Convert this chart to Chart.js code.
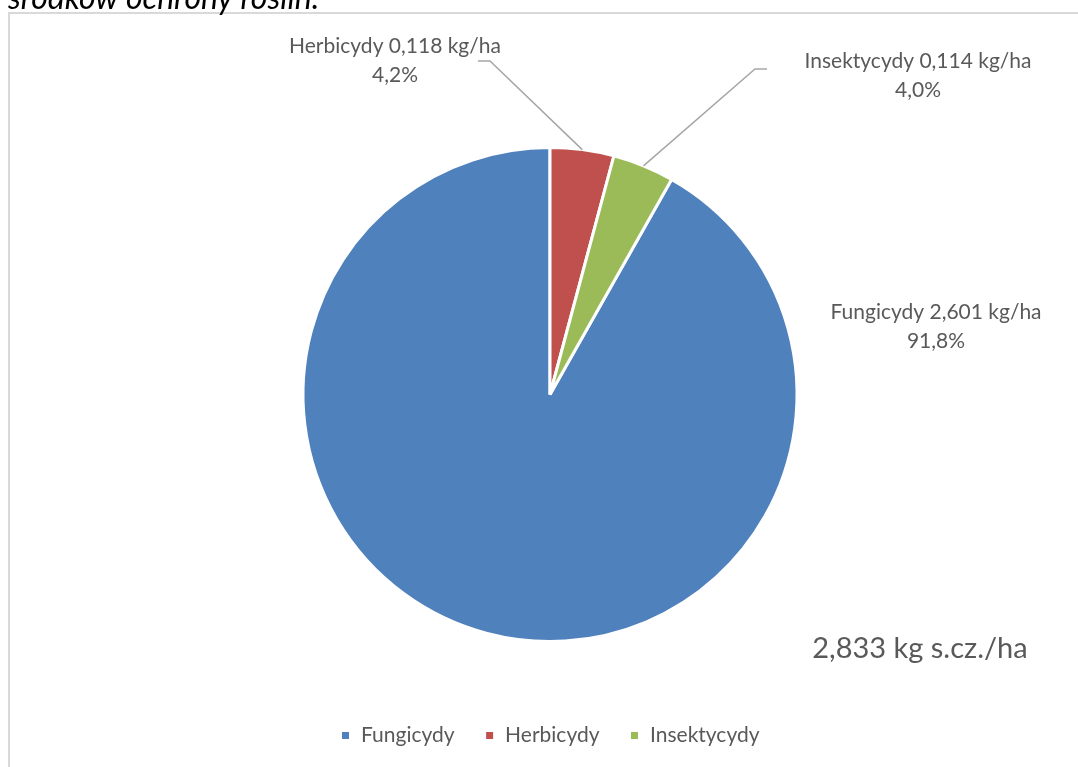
<!DOCTYPE html>
<html lang="pl">
<head>
<meta charset="utf-8">
<title>Zużycie środków ochrony roślin</title>
<script src="https://cdn.jsdelivr.net/npm/chart.js@4/dist/chart.umd.min.js"></script>
<style>
  html, body { margin: 0; padding: 0; background: #fff; overflow: hidden; }
  #frame {
    position: absolute; left: 8px; top: 12px;
    width: 1100px; height: 800px;
    border: 2px solid #d9d9d9; box-sizing: border-box;
  }
  #chart { position: absolute; left: 0; top: 0; }
</style>
</head>
<body>
<div id="frame"></div>
<canvas id="chart" width="1078" height="767"></canvas>
<script>
// --- dane ---
const categories = ["Fungicydy", "Herbicydy", "Insektycydy"];
const doses = [2.601, 0.118, 0.114];          // kg s.cz./ha
const colors = ["#4F81BD", "#C0504D", "#9BBB59"];

const total = doses.reduce((a, b) => a + b, 0);
const fmt = (v, d) => v.toFixed(d).replace(".", ",");

// label boxes (text centre + optional leader elbow)
const labelPlacement = [
  { x: 936, y: 312, elbow: null },
  { x: 395, y: 46, elbow: [[490, 61], [478, 61]] },
  { x: 918, y: 61, elbow: [[755, 69], [767, 69]] }
];

const FONT = "Lato, 'Open Sans', sans-serif";

// --- etykiety danych, linie odniesienia, suma, nagłówek ---
const pieLabels = {
  id: "pieLabels",
  afterDatasetsDraw(chart) {
    const ctx = chart.ctx;
    const arcs = chart.getDatasetMeta(0).data;
    ctx.save();
    arcs.forEach((arc, i) => {
      const p = arc.getProps(["x", "y", "startAngle", "endAngle", "outerRadius"], true);
      const mid = (p.startAngle + p.endAngle) / 2;
      const pl = labelPlacement[i];
      if (pl.elbow) {
        ctx.strokeStyle = "#a6a6a6";
        ctx.lineWidth = 1.5;
        ctx.beginPath();
        ctx.moveTo(p.x + Math.cos(mid) * p.outerRadius, p.y + Math.sin(mid) * p.outerRadius);
        pl.elbow.forEach(pt => ctx.lineTo(pt[0], pt[1]));
        ctx.stroke();
      }
      ctx.fillStyle = "#595959";
      ctx.font = "21px " + FONT;
      ctx.textAlign = "center";
      ctx.textBaseline = "middle";
      ctx.fillText(categories[i] + " " + fmt(doses[i], 3) + " kg/ha", pl.x, pl.y);
      ctx.fillText(fmt(doses[i] / total * 100, 1) + "%", pl.x, pl.y + 29);
    });

    ctx.font = "29px " + FONT;
    ctx.fillText(fmt(total, 3) + " kg s.cz./ha", 920, 649);

    ctx.fillStyle = "#000";
    ctx.font = "italic 32px " + FONT;
    ctx.textAlign = "left";
    ctx.textBaseline = "alphabetic";
    ctx.fillText("środków ochrony roślin.", 8, 9);
    ctx.restore();
  }
};

new Chart(document.getElementById("chart"), {
  type: "pie",
  data: {
    labels: categories,
    datasets: [{
      data: doses,
      backgroundColor: colors,
      borderColor: "#ffffff",
      borderWidth: 3,
      radius: 247
    }]
  },
  options: {
    responsive: false,
    animation: false,
    rotation: 360 * (1 - doses[0] / total),
    layout: { padding: { top: 94, bottom: 11, left: 22, right: 0 } },
    plugins: {
      legend: {
        position: "bottom",
        labels: {
          boxWidth: 10,
          boxHeight: 10,
          padding: 30,
          color: "#595959",
          font: { family: FONT, size: 21 }
        }
      },
      tooltip: { enabled: false }
    }
  },
  plugins: [pieLabels]
});
</script>
</body>
</html>
